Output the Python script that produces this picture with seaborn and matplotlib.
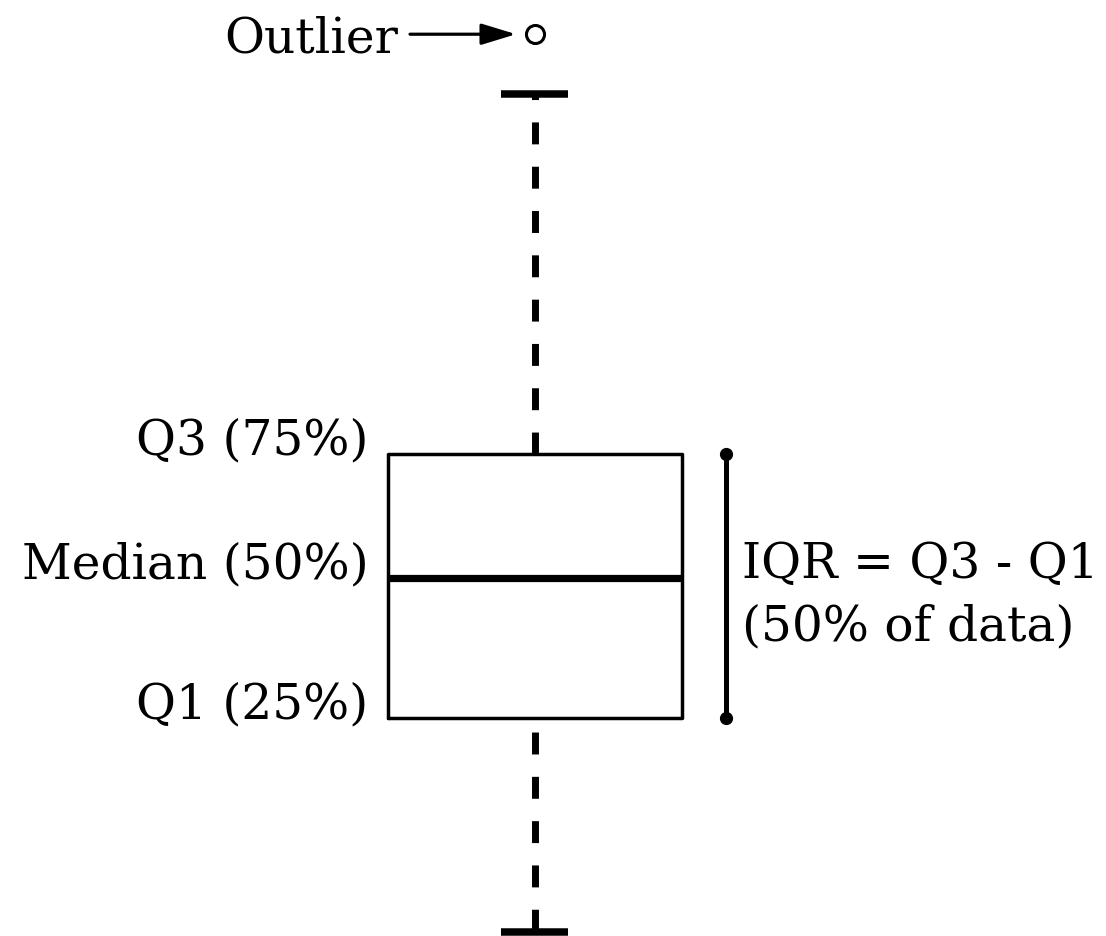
import numpy as np
import matplotlib
matplotlib.use("Agg")
import matplotlib.pyplot as plt
import seaborn as sns

# sample values; quartiles land on 25 / 51.5 / 75, one point beyond the upper fence
values = [-15.5, 5, 15, 25, 35, 45, 51.5, 60, 70, 75, 100, 143.2, 154.5]
stat_labels = ["Q1 (25%)", "Median (50%)", "Q3 (75%)"]
iqr_lines = ["IQR = Q3 - Q1", "(50% of data)"]
outlier_label = "Outlier"

sns.set_style("white")
plt.rcParams["font.family"] = ["DejaVu Serif"]
plt.rcParams["text.color"] = "black"
plt.rcParams["lines.scale_dashes"] = False

fig = plt.figure(figsize=(11.06, 9.36), dpi=100)
ax = fig.add_axes([0, 0, 1, 1])

dash = (0, (15.8, 16.1))
sns.boxplot(y=values, ax=ax, fill=False, color="black", width=0.8, whis=1.5,
            fliersize=13, capwidths=0.182,
            boxprops=dict(linewidth=2.5),
            medianprops=dict(linewidth=5.2),
            whiskerprops=dict(linewidth=5, linestyle=dash),
            capprops=dict(linewidth=5.4, solid_capstyle="butt"),
            flierprops=dict(marker="o", markersize=13, markeredgewidth=2.2,
                            markerfacecolor="white", markeredgecolor="black"))

q1, med, q3 = np.percentile(values, [25, 50, 75])
lo = min(values)

# lower whisker dashes are phased from the cap end
for line in ax.lines:
    yd = np.asarray(line.get_ydata(), dtype=float)
    if len(yd) == 2 and np.isclose(yd[0], q1) and np.isclose(yd[1], lo):
        line.set_linestyle((21.8, (15.8, 16.1)))

ax.set_xlim(-1.4529, 1.5517)
ax.set_ylim(-16.29, 160.98)
ax.axis("off")

fs = 35
for lab, yv in zip(stat_labels, [q1, med, q3]):
    ax.text(-0.452, yv, lab, ha="right", va="baseline", fontsize=fs)

# IQR bracket
ax.plot([0.519, 0.519], [q1, q3], color="black", lw=3.6, marker="o", markersize=8.5)
for i, txt in enumerate(iqr_lines):
    ax.annotate(txt, xy=(0.563, med), xytext=(0, -44.6 * i), textcoords="offset points",
                ha="left", va="baseline", fontsize=fs)

# outlier pointer
out = max(values)
ax.annotate("", xy=(-0.051, out), xytext=(-0.339, out),
            arrowprops=dict(arrowstyle="-|>,head_length=0.85,head_width=0.26",
                            mutation_scale=25, lw=2.3, color="black",
                            shrinkA=0, shrinkB=0))
ax.text(-0.37, out, outlier_label, ha="right", va="center_baseline", fontsize=fs)

fig.savefig("out.png", dpi=100)
